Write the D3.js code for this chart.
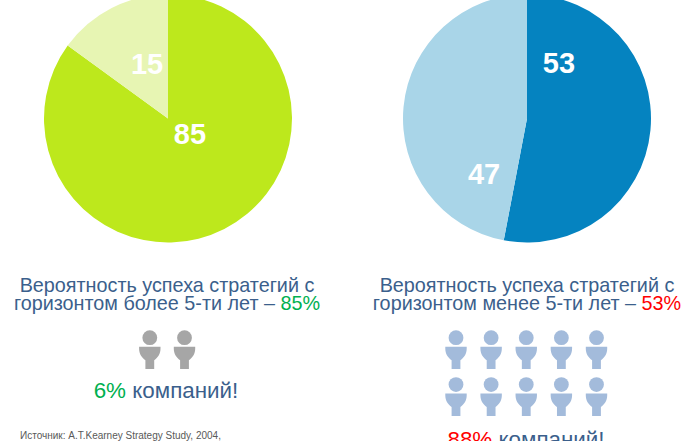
<!DOCTYPE html>
<html>
<head>
<meta charset="utf-8">
<script src="https://cdn.jsdelivr.net/npm/d3@7"></script>
<style>
  html, body { margin: 0; padding: 0; background: #fff; overflow: hidden; }
  text { font-family: "Liberation Sans", Arial, sans-serif; }
</style>
</head>
<body>
<div id="chart"></div>
<script>
// values
var longValues = [85, 15];
var shortValues = [53, 47];
var longColors = ['#bde81c', '#e7f5b3'];
var shortColors = ['#0583c0', '#a9d5e8'];
var longIconCols = [0, 1];
var shortIconCols = [0, 1, 2, 3, 4];
var iconRows = [0, 1];

var TITLE = '#3b5f8c', GREEN = '#00b050', RED = '#ff0000';

var svg = d3.select('#chart').append('svg')
    .attr('width', 700)
    .attr('height', 441);

var pie = d3.pie().sort(null).value(function(d) { return d; });
var arc = d3.arc().innerRadius(0).outerRadius(124);

function drawPie(values, colors, cx, labelPos) {
    var g = svg.append('g').attr('transform', 'translate(' + cx + ',118.5)');
    var slices = pie(values);

    g.selectAll('path').data(slices).enter().append('path')
        .attr('d', arc)
        .attr('fill', function(d, i) { return colors[i]; });

    // labels are hand placed in the original, so not on the centroid
    g.selectAll('text').data(slices).enter().append('text')
        .attr('x', function(d, i) { return labelPos[i][0]; })
        .attr('y', function(d, i) { return labelPos[i][1]; })
        .attr('text-anchor', 'middle')
        .attr('font-size', 29)
        .attr('font-weight', 'bold')
        .attr('fill', '#fff')
        .text(function(d) { return d.data; });
}

drawPie(longValues, longColors, 168, [[22, 25.5], [-21, -44.5]]);
drawPie(shortValues, shortColors, 527, [[32, -46], [-43, 65]]);

// a text line made of coloured pieces
function line(x, y, size, parts, anchor) {
    var t = svg.append('text')
        .attr('x', x)
        .attr('y', y)
        .attr('font-size', size)
        .attr('text-anchor', anchor || 'middle');
    parts.forEach(function(p) {
        t.append('tspan').attr('fill', p[1]).text(p[0]);
    });
}

line(167, 291.5, 19.8, [['Вероятность успеха стратегий с', TITLE]]);
line(167, 309.5, 19.8, [['горизонтом более 5-ти лет – ', TITLE], ['85%', GREEN]]);
line(527, 291.5, 19.8, [['Вероятность успеха стратегий с', TITLE]]);
line(527, 309.5, 19.8, [['горизонтом менее 5-ти лет – ', TITLE], ['53%', RED]]);

line(166, 398, 22.4, [['6%', GREEN], [' компаний!', TITLE]]);
line(526, 447, 22.4, [['88%', RED], [' компаний!', TITLE]]);

line(20, 439, 10, [['Источник: A.T.Kearney Strategy Study, 2004,', '#595959']], 'start');

// one person: head, then bowl shaped body with a stem
var bodyPath = 'M-10.7,0 H10.7 V2 C10.7,7 8,11 4.4,13.5 V22.3 H-4.4 V13.5 C-8,11 -10.7,7 -10.7,2 Z';

function drawPeople(cols, rows, x0, x1, color) {
    var x = d3.scalePoint().domain(cols).range([x0, x1]);
    var y = d3.scalePoint().domain(iconRows).range([337.7, 384.6]);
    rows.forEach(function(r) {
        cols.forEach(function(c) {
            var g = svg.append('g')
                .attr('transform', 'translate(' + x(c) + ',' + y(r) + ')')
                .attr('fill', color);
            g.append('circle').attr('r', 7.4);
            g.append('path').attr('d', bodyPath).attr('transform', 'translate(0,9)');
        });
    });
}

drawPeople(longIconCols, [0], 149.8, 184.5, '#a6a6a6');
drawPeople(shortIconCols, iconRows, 456, 596.5, '#a3bbdb');
</script>
</body>
</html>
